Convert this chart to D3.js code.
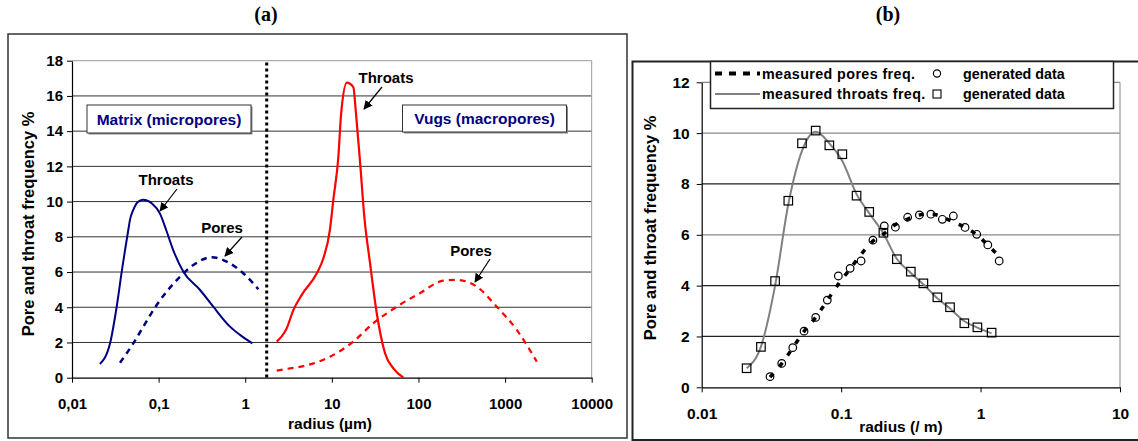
<!DOCTYPE html>
<html>
<head>
<meta charset="utf-8">
<script src="https://cdn.jsdelivr.net/npm/d3@7"></script>
<style>
body { margin: 0; background: #fff; }
text { font-family: Arial, "Liberation Sans", sans-serif; font-weight: bold; }
</style>
</head>
<body>
<svg id="svg" width="1138" height="441"></svg>
<script>
// ---- data, panel (a) ----
var matrixThroatR = [0.021, 0.0275, 0.0328, 0.0375, 0.041, 0.0447, 0.0467, 0.051, 0.0583, 0.0666, 0.0832, 0.104, 0.122, 0.147, 0.193, 0.301, 0.428, 0.667, 0.871, 1.21];
var matrixThroatF = [0.78, 1.95, 4.03, 6.02, 7.26, 8.4, 8.96, 9.53, 10.0, 10.1, 9.9, 9.3, 8.4, 7.26, 6.02, 4.98, 4.03, 2.9, 2.43, 1.95];
var matrixPoreR = [0.0358, 0.051, 0.0666, 0.095, 0.124, 0.177, 0.252, 0.41, 0.611, 0.95, 1.42];
var matrixPoreF = [0.85, 1.95, 2.9, 4.13, 4.89, 5.74, 6.4, 6.84, 6.59, 5.93, 5.02];
var vugThroatR = [2.31, 3.01, 3.6, 4.49, 6.7, 7.98, 9.5, 10.4, 11.9, 12.8, 14.9, 17.7, 19.0, 21.2, 23.7, 27.6, 33.0, 41.1, 51.3, 67.0];
var vugThroatF = [2.05, 2.8, 3.85, 4.7, 5.93, 6.78, 8.39, 10.1, 12.56, 15.0, 16.76, 16.5, 15.0, 12.2, 9.15, 6.5, 3.66, 1.39, 0.53, 0.0];
var vugPoreR = [2.31, 3.29, 4.69, 9.53, 17.7, 30.1, 56.1, 104, 194, 277, 471, 802, 1365, 2322];
var vugPoreF = [0.4, 0.53, 0.66, 1.19, 2.05, 3.09, 4.03, 4.8, 5.51, 5.55, 5.17, 4.03, 2.71, 0.91];
var splitRadius = 1.77;
var ticksA = [0.01, 0.1, 1, 10, 100, 1000, 10000];
var tickLabelsA = ["0,01", "0,1", "1", "10", "100", "1000", "10000"];
var yTicksA = [0, 2, 4, 6, 8, 10, 12, 14, 16, 18];

// ---- data, panel (b) ----
var throatR = [0.021, 0.0266, 0.0336, 0.0418, 0.0524, 0.0657, 0.0823, 0.102, 0.129, 0.159, 0.201, 0.251, 0.316, 0.389, 0.49, 0.604, 0.765, 0.949, 1.2];
var throatMeasured = [0.75, 1.6, 4.0, 7.2, 9.3, 10.05, 9.6, 8.9, 7.6, 6.85, 6.05, 5.05, 4.5, 4.05, 3.5, 3.1, 2.6, 2.35, 2.12];
var throatGenerated = [0.75, 1.59, 4.18, 7.34, 9.6, 10.1, 9.52, 9.17, 7.54, 6.9, 6.08, 5.04, 4.55, 4.09, 3.54, 3.15, 2.52, 2.36, 2.15];
var poreR = [0.0309, 0.0375, 0.045, 0.0542, 0.0657, 0.0796, 0.0955, 0.116, 0.139, 0.169, 0.204, 0.245, 0.30, 0.364, 0.44, 0.532, 0.638, 0.774, 0.939, 1.127, 1.36];
var poreMeasured = [0.4, 0.93, 1.55, 2.2, 2.75, 3.42, 4.06, 4.66, 5.23, 5.75, 6.05, 6.4, 6.62, 6.78, 6.82, 6.7, 6.5, 6.3, 6.0, 5.6, 5.15];
var poreGenerated = [0.42, 0.94, 1.56, 2.21, 2.75, 3.43, 4.38, 4.68, 4.97, 5.79, 6.35, 6.3, 6.69, 6.78, 6.81, 6.61, 6.74, 6.29, 6.02, 5.6, 4.97];
var ticksB = [0.01, 0.1, 1, 10];
var tickLabelsB = ["0.01", "0.1", "1", "10"];
var yTicksB = [0, 2, 4, 6, 8, 10, 12];

var svg = d3.select("#svg");
var NAVY = "#000080";

function zip(xs, ys) { return xs.map(function(x, i) { return [x, ys[i]]; }); }

svg.append("defs").append("marker")
    .attr("id", "arrow")
    .attr("viewBox", "0 0 10 10")
    .attr("refX", 9).attr("refY", 5)
    .attr("markerWidth", 9).attr("markerHeight", 9)
    .attr("markerUnits", "userSpaceOnUse")
    .attr("orient", "auto")
    .append("path").attr("d", "M0,0 L10,5 L0,10 z").attr("fill", "#000");

// headers
svg.append("text").attr("x", 266).attr("y", 21).attr("text-anchor", "middle")
    .style("font-family", "'Liberation Serif', 'Times New Roman', serif").style("font-size", "20px").text("(a)");
svg.append("text").attr("x", 888).attr("y", 21).attr("text-anchor", "middle")
    .style("font-family", "'Liberation Serif', 'Times New Roman', serif").style("font-size", "20px").text("(b)");

// =============== panel (a) ===============
var ga = svg.append("g");
ga.append("rect").attr("x", 8).attr("y", 34).attr("width", 619).attr("height", 404)
    .attr("fill", "none").attr("stroke", "#333").attr("stroke-width", 1.5);

var xa = d3.scaleLog().domain([0.01, 10000]).range([72, 591.7]);
var ya = d3.scaleLinear().domain([0, 18]).range([377.7, 60.7]);

// grid
ga.selectAll(".grid").data(yTicksA.slice(1, -1)).enter().append("line")
    .attr("x1", xa(0.01)).attr("x2", xa(10000))
    .attr("y1", function(d) { return ya(d); }).attr("y2", function(d) { return ya(d); })
    .attr("stroke", "#333").attr("stroke-width", 1);
ga.append("line").attr("x1", xa(0.01)).attr("x2", xa(10000)).attr("y1", ya(18)).attr("y2", ya(18))
    .attr("stroke", "#999");
ga.append("line").attr("x1", xa(10000)).attr("x2", xa(10000)).attr("y1", ya(18)).attr("y2", ya(0))
    .attr("stroke", "#999");

var axA = ga.append("g").attr("transform", "translate(0," + ya(0) + ")")
    .call(d3.axisBottom(xa).tickValues(ticksA).tickSize(5).tickSizeOuter(0)
        .tickFormat(function(d, i) { return tickLabelsA[i]; }));
var ayA = ga.append("g").attr("transform", "translate(" + xa(0.01) + ",0)")
    .call(d3.axisLeft(ya).tickValues(yTicksA).tickSize(5).tickSizeOuter(0));
[axA, ayA].forEach(function(a) {
    a.select(".domain").attr("stroke", "#000").attr("stroke-width", 1.2);
    a.selectAll(".tick line").attr("stroke", "#000");
    a.selectAll("text").style("font-size", "15px").style("font-family", "Arial, 'Liberation Sans', sans-serif")
        .style("font-weight", "bold").attr("fill", "#000");
});
axA.selectAll("text").attr("dy", null).attr("y", 31);
ayA.selectAll("text").attr("x", -9);

ga.append("text").attr("transform", "translate(34,224) rotate(-90)").attr("text-anchor", "middle")
    .style("font-size", "16.5px").text("Pore and throat frequency %");
ga.append("text").attr("x", 330).attr("y", 429).attr("text-anchor", "middle")
    .style("font-size", "15.5px").text("radius (µm)");

// separator
ga.append("line").attr("x1", xa(splitRadius)).attr("x2", xa(splitRadius))
    .attr("y1", ya(17.9)).attr("y2", ya(0))
    .attr("stroke", "#000").attr("stroke-width", 3).attr("stroke-dasharray", "3,3");

var lineA = d3.line().x(function(d) { return xa(d[0]); }).y(function(d) { return ya(d[1]); })
    .curve(d3.curveMonotoneX);
ga.append("path").attr("d", lineA(zip(matrixThroatR, matrixThroatF)))
    .attr("fill", "none").attr("stroke", NAVY).attr("stroke-width", 2);
ga.append("path").attr("d", lineA(zip(matrixPoreR, matrixPoreF)))
    .attr("fill", "none").attr("stroke", NAVY).attr("stroke-width", 2.5).attr("stroke-dasharray", "6,5");
ga.append("path").attr("d", lineA(zip(vugThroatR, vugThroatF)))
    .attr("fill", "none").attr("stroke", "#ff0000").attr("stroke-width", 2.2);
ga.append("path").attr("d", lineA(zip(vugPoreR, vugPoreF)))
    .attr("fill", "none").attr("stroke", "#ff0000").attr("stroke-width", 2.2).attr("stroke-dasharray", "6,5");

// boxes
function labelBox(g, x, y, w, h, label) {
    g.append("rect").attr("x", x + 1.5).attr("y", y + 1.5).attr("width", w).attr("height", h).attr("fill", "#888");
    g.append("rect").attr("x", x).attr("y", y).attr("width", w).attr("height", h)
        .attr("fill", "#fff").attr("stroke", "#333").attr("stroke-width", 1);
    g.append("text").attr("x", x + w / 2).attr("y", y + h / 2 + 5.5).attr("text-anchor", "middle")
        .style("font-size", "15.5px").attr("fill", NAVY).text(label);
}
labelBox(ga, 87, 105, 164, 28, "Matrix (micropores)");
labelBox(ga, 402.5, 105, 164, 27, "Vugs (macropores)");

// annotations
function note(g, tx, ty, label, ax1, ay1, ax2, ay2) {
    g.append("text").attr("x", tx).attr("y", ty).attr("text-anchor", "middle")
        .style("font-size", "15px").text(label);
    g.append("line").attr("x1", ax1).attr("y1", ay1).attr("x2", ax2).attr("y2", ay2)
        .attr("stroke", "#000").attr("stroke-width", 1.2).attr("marker-end", "url(#arrow)");
}
note(ga, 166, 185, "Throats", 177, 189, 160, 211);
note(ga, 222, 233, "Pores", 242, 237, 225, 256);
note(ga, 386, 83, "Throats", 382, 87, 364, 109);
note(ga, 471, 256, "Pores", 490, 259, 475, 282);

// =============== panel (b) ===============
var gb = svg.append("g");
gb.append("rect").attr("x", 632.5).attr("y", 61.5).attr("width", 520).attr("height", 378.5)
    .attr("fill", "none").attr("stroke", "#222").attr("stroke-width", 2);

var xb = d3.scaleLog().domain([0.01, 10]).range([701.7, 1120]);
var yb = d3.scaleLinear().domain([0, 12]).range([387.3, 82.3]);
var gridColB = { 2: "#222", 4: "#222", 6: "#888", 8: "#222", 10: "#888", 12: "#888" };

gb.selectAll(".grid").data(yTicksB.slice(1)).enter().append("line")
    .attr("x1", xb(0.01)).attr("x2", xb(10))
    .attr("y1", function(d) { return yb(d); }).attr("y2", function(d) { return yb(d); })
    .attr("stroke", function(d) { return gridColB[d]; }).attr("stroke-width", 1.2);
gb.append("line").attr("x1", xb(10)).attr("x2", xb(10)).attr("y1", yb(12)).attr("y2", yb(0))
    .attr("stroke", "#999").attr("stroke-width", 1.2);

var axB = gb.append("g").attr("transform", "translate(0," + yb(0) + ")")
    .call(d3.axisBottom(xb).tickValues(ticksB).tickSize(5).tickSizeOuter(0)
        .tickFormat(function(d, i) { return tickLabelsB[i]; }));
var ayB = gb.append("g").attr("transform", "translate(" + xb(0.01) + ",0)")
    .call(d3.axisLeft(yb).tickValues(yTicksB).tickSize(5).tickSizeOuter(0));
[axB, ayB].forEach(function(a) {
    a.select(".domain").attr("stroke", "#000").attr("stroke-width", 1.2);
    a.selectAll(".tick line").attr("stroke", "#000");
    a.selectAll("text").style("font-size", "15.5px").style("font-family", "Arial, 'Liberation Sans', sans-serif")
        .style("font-weight", "bold").attr("fill", "#000");
});
axB.selectAll("text").attr("dy", null).attr("y", 32);
axB.selectAll(".tick:first-child text").attr("x", -4);
ayB.selectAll("text").attr("x", -12);

gb.append("text").attr("transform", "translate(656,228) rotate(-90)").attr("text-anchor", "middle")
    .style("font-size", "16.5px").text("Pore and throat frequency %");
gb.append("text").attr("x", 901).attr("y", 432).attr("text-anchor", "middle")
    .style("font-size", "15.5px").text("radius (/ m)");

var lineB = d3.line().x(function(d) { return xb(d[0]); }).y(function(d) { return yb(d[1]); })
    .curve(d3.curveMonotoneX);
gb.append("path").attr("d", lineB(zip(throatR, throatMeasured)))
    .attr("fill", "none").attr("stroke", "#808080").attr("stroke-width", 2);

var sq = 8.5;
gb.selectAll(".sq").data(zip(throatR, throatGenerated)).enter().append("rect")
    .attr("x", function(d) { return xb(d[0]) - sq / 2; })
    .attr("y", function(d) { return yb(d[1]) - sq / 2; })
    .attr("width", sq).attr("height", sq)
    .attr("fill", "none").attr("stroke", "#000").attr("stroke-width", 1.2);

gb.selectAll(".ci").data(zip(poreR, poreGenerated)).enter().append("circle")
    .attr("cx", function(d) { return xb(d[0]); })
    .attr("cy", function(d) { return yb(d[1]); })
    .attr("r", 3.8)
    .attr("fill", "none").attr("stroke", "#000").attr("stroke-width", 1.2);

gb.append("path").attr("d", lineB(zip(poreR, poreMeasured)))
    .attr("fill", "none").attr("stroke", "#000").attr("stroke-width", 3.5).attr("stroke-dasharray", "5,9");

// legend
var lg = gb.append("g");
lg.append("rect").attr("x", 710.5).attr("y", 61.5).attr("width", 403).attr("height", 47)
    .attr("fill", "#fff").attr("stroke", "#222").attr("stroke-width", 1.5);
lg.append("line").attr("x1", 715).attr("x2", 760).attr("y1", 73.5).attr("y2", 73.5)
    .attr("stroke", "#000").attr("stroke-width", 4).attr("stroke-dasharray", "7,7");
lg.append("line").attr("x1", 715).attr("x2", 760).attr("y1", 94).attr("y2", 94)
    .attr("stroke", "#808080").attr("stroke-width", 2);
lg.append("text").attr("x", 762).attr("y", 78.5).style("font-size", "14.3px").style("letter-spacing", "0.4px").text("measured pores freq.");
lg.append("text").attr("x", 762).attr("y", 99).style("font-size", "14.3px").style("letter-spacing", "0.4px").text("measured throats freq.");
lg.append("circle").attr("cx", 937).attr("cy", 73.5).attr("r", 3.6)
    .attr("fill", "none").attr("stroke", "#000").attr("stroke-width", 1.1);
lg.append("rect").attr("x", 933).attr("y", 90).attr("width", 8).attr("height", 8)
    .attr("fill", "none").attr("stroke", "#000").attr("stroke-width", 1.1);
lg.append("text").attr("x", 963).attr("y", 78.5).style("font-size", "14.3px").text("generated data");
lg.append("text").attr("x", 963).attr("y", 99).style("font-size", "14.3px").text("generated data");
</script>
</body>
</html>
